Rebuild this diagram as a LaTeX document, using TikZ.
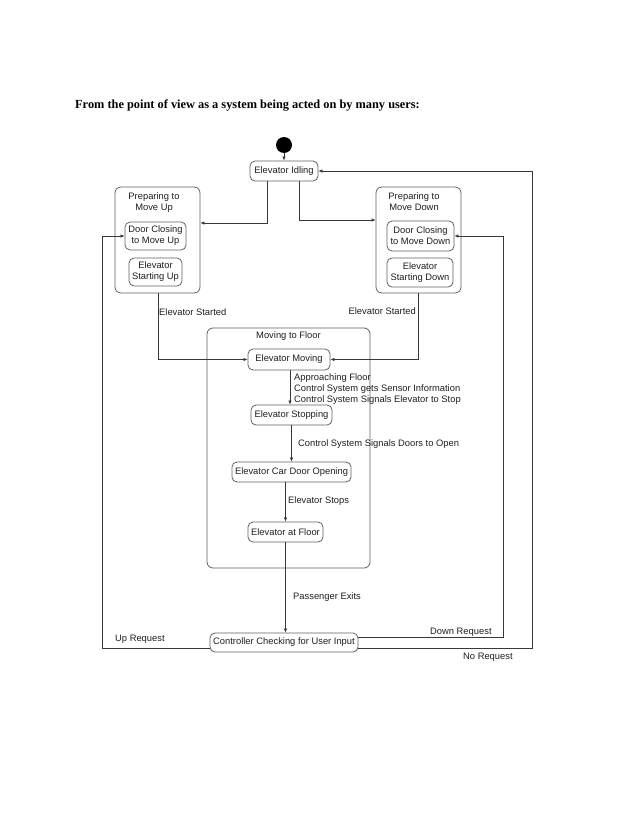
\documentclass[tikz,border=0pt]{standalone}
\usepackage{fontspec}
\setmainfont{Liberation Sans}
\newfontfamily\titlefont{Liberation Serif}
\usetikzlibrary{arrows.meta}
\newcommand\diagfont{\fontsize{9.4}{11}\selectfont}
\definecolor{linecol}{gray}{0.22}
\definecolor{boxcol}{gray}{0.38}
\definecolor{txtcol}{gray}{0.12}
\begin{document}
\begin{tikzpicture}[x=1bp,y=-1bp,
  state/.style={draw=boxcol, line width=0.8bp, rounded corners=5bp, inner sep=0pt,
    align=center, font=\diagfont, text=txtcol},
  container/.style={draw=boxcol, line width=0.8bp, rounded corners=6bp, inner sep=0pt},
  lbl/.style={font=\diagfont, inner sep=0pt, text=txtcol},
  conn/.style={draw=linecol, line width=0.7bp},
  arr/.style={conn, -{Latex[length=4bp,width=3.5bp]}},
  startdot/.style={circle, fill=black, minimum size=16bp, inner sep=0pt}]
\useasboundingbox[fill=white] (0,0) rectangle (638,826);

% title
\node[anchor=base west, inner sep=0pt, font={\titlefont\bfseries\fontsize{12.4}{14}\selectfont}] (title) at (75,108.5)
  {From the point of view as a system being acted on by many users:};

% containers
\node[container, minimum width=85bp, minimum height=106bp] (prepup) at (157.5,240) {};
\node[lbl, align=center, anchor=north] (prepupt) at (154,192.7) {Preparing to\\Move Up};
\node[container, minimum width=85bp, minimum height=106bp] (prepdown) at (418.5,240) {};
\node[lbl, align=center, anchor=north] (prepdownt) at (414,192.7) {Preparing to\\Move Down};
\node[container, minimum width=163bp, minimum height=240bp] (mtf) at (288.5,448) {};
\node[lbl, anchor=base] (mtft) at (288.5,338.5) {Moving to Floor};

% states
\node[startdot] (start) at (284,145) {};
\node[state, minimum width=68bp, minimum height=20bp] (idle) at (284,171) {Elevator Idling};
\node[state, minimum width=61bp, minimum height=28bp] (doorup) at (155.5,236) {Door Closing\\to Move Up};
\node[state, minimum width=53bp, minimum height=28bp] (startup) at (155.5,272) {Elevator\\Starting Up};
\node[state, minimum width=67bp, minimum height=30bp] (doordown) at (420.5,236) {Door Closing\\to Move Down};
\node[state, minimum width=66bp, minimum height=29bp] (startdown) at (420,272.5) {Elevator\\Starting Down};
\node[state, minimum width=82bp, minimum height=21bp] (moving) at (289,359.5) {Elevator Moving};
\node[state, minimum width=81bp, minimum height=20bp] (stopping) at (291.5,415) {Elevator Stopping};
\node[state, minimum width=119bp, minimum height=20bp] (cardoor) at (291.5,472) {Elevator Car Door Opening};
\node[state, minimum width=75bp, minimum height=20bp] (atfloor) at (285.5,532) {Elevator at Floor};
\node[state, minimum width=148bp, minimum height=19bp] (ctrl) at (284,642.5) {Controller Checking for User Input};

% bend points
\coordinate (nobend) at (532,171);
\coordinate (downbend) at (503,236);
\coordinate (upbend) at (102.5,236);

% connectors
\draw[arr] (start) -- (idle);
\draw[arr] (idle.south -| 267,0) |- (prepup.east |- 0,223);
\draw[arr] (idle.south -| 299,0) |- (prepdown.west |- 0,220);
\draw[arr] (ctrl.east |- 0,648) -| (nobend) -- (idle.east);
\draw[arr] (ctrl.east |- 0,637) -| (downbend) -- (doordown.east);
\draw[arr] (ctrl.west |- 0,648) -| (upbend) -- (doorup.west);
\draw[arr] (prepup.south -| 158,0) |- (moving.west);
\draw[arr] (prepdown.south -| 418,0) |- (moving.east);
\draw[arr] (moving.south -| 290,0) -- (stopping.north -| 290,0);
\draw[arr] (stopping.south) -- (cardoor.north);
\draw[arr] (cardoor.south -| atfloor.north) -- (atfloor.north);
\draw[arr] (atfloor.south) -- (atfloor.south |- ctrl.north);

% labels
\node[lbl, anchor=base west] (l1) at (159,315.5) {Elevator Started};
\node[lbl, anchor=base east] (l2) at (416,314) {Elevator Started};
\node[lbl, anchor=north west, align=left] (l3) at (294,373.7)
  {Approaching Floor\\Control System gets Sensor Information\\Control System Signals Elevator to Stop};
\node[lbl, anchor=base west] (l4) at (298,446.4) {Control System Signals Doors to Open};
\node[lbl, anchor=base west] (l5) at (288,503.5) {Elevator Stops};
\node[lbl, anchor=base west] (l6) at (293,599.5) {Passenger Exits};
\node[lbl, anchor=base west] (l7) at (115,641.5) {Up Request};
\node[lbl, anchor=base west] (l8) at (430,634.5) {Down Request};
\node[lbl, anchor=base west] (l9) at (463,659.5) {No Request};
\end{tikzpicture}
\end{document}
